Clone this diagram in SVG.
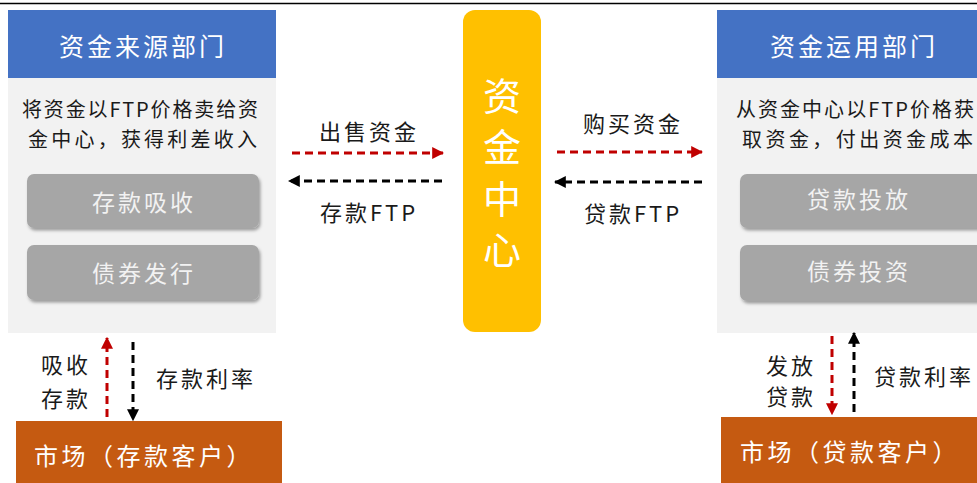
<svg xmlns="http://www.w3.org/2000/svg" width="977" height="483" viewBox="0 0 977 483">
<defs>
<style>
text{font-family:"Noto Sans CJK SC","Liberation Sans",sans-serif;dominant-baseline:central;text-anchor:middle}
.hdr{fill:#FFFFFF;font-size:25px;letter-spacing:3px}
.desc{fill:#1a1a1a;font-size:20px;text-anchor:start}
.btn{fill:#A6A6A6}
.btnt{fill:#F2F2F2;font-size:23px;letter-spacing:3px}
.mkt{fill:#FFFFFF;font-size:24px;letter-spacing:3.5px}
.lbl{fill:#1a1a1a;font-size:22px;letter-spacing:3px}
.ctr{fill:#FFFFFF;font-size:38px}
.red{stroke:#C00000;stroke-width:3;stroke-dasharray:8 5;fill:none}
.blk{stroke:#000000;stroke-width:3;stroke-dasharray:8 5;fill:none}
</style>
<filter id="sh" x="-10%" y="-20%" width="130%" height="150%">
<feDropShadow dx="1.5" dy="2.5" stdDeviation="1.5" flood-color="#000" flood-opacity="0.35"/>
</filter>
<marker id="ar" viewBox="0 0 10 10" refX="9" refY="5" markerWidth="4" markerHeight="4" orient="auto" markerUnits="strokeWidth">
<path d="M0,0 L10,5 L0,10 Z" fill="#C00000"/>
</marker>
<marker id="ab" viewBox="0 0 10 10" refX="9" refY="5" markerWidth="4" markerHeight="4" orient="auto" markerUnits="strokeWidth">
<path d="M0,0 L10,5 L0,10 Z" fill="#000000"/>
</marker>
</defs>
<rect width="977" height="483" fill="#FFFFFF"/>
<line x1="0" y1="3.5" x2="977" y2="3.5" stroke="#000" stroke-width="1.5"/>

<g id="source-dept">
<rect x="8" y="10" width="268" height="323" fill="#F2F2F2"/>
<rect x="8" y="10" width="268" height="68" fill="#4472C4"/>
<text class="hdr" x="143" y="45">资金来源部门</text>
<text class="desc" x="22" y="108" textLength="236" lengthAdjust="spacing">将资金以FTP价格卖给资</text>
<text class="desc" x="28" y="138" textLength="229" lengthAdjust="spacing">金中心，获得利差收入</text>
</g>
<g id="deposit-absorb">
<rect class="btn" x="27" y="174" width="232" height="54" rx="7" filter="url(#sh)"/>
<text class="btnt" x="144" y="201">存款吸收</text>
</g>
<g id="bond-issue">
<rect class="btn" x="27" y="245" width="232" height="55" rx="7" filter="url(#sh)"/>
<text class="btnt" x="144" y="272">债券发行</text>
</g>
<g id="market-deposit">
<rect x="16" y="421" width="266" height="62" fill="#C55A11"/>
<text class="mkt" x="144" y="454">市场（存款客户）</text>
</g>

<g id="fund-center">
<rect x="463" y="10" width="78" height="322" rx="12" fill="#FFC000"/>
<text class="ctr" x="502" y="93">资</text>
<text class="ctr" x="502" y="144">金</text>
<text class="ctr" x="502" y="196">中</text>
<text class="ctr" x="502" y="247">心</text>
</g>

<g id="use-dept">
<rect x="717" y="10" width="260" height="323" fill="#F2F2F2"/>
<rect x="717" y="10" width="260" height="68" fill="#4472C4"/>
<text class="hdr" x="854" y="45">资金运用部门</text>
<text class="desc" x="736" y="108" textLength="238" lengthAdjust="spacing">从资金中心以FTP价格获</text>
<text class="desc" x="742" y="138" textLength="231" lengthAdjust="spacing">取资金，付出资金成本</text>
</g>
<g id="loan-issue">
<rect class="btn" x="740" y="174" width="250" height="54" rx="7" filter="url(#sh)"/>
<text class="btnt" x="859" y="198">贷款投放</text>
</g>
<g id="bond-invest">
<rect class="btn" x="740" y="245" width="250" height="56" rx="7" filter="url(#sh)"/>
<text class="btnt" x="859" y="270">债券投资</text>
</g>
<g id="market-loan">
<rect x="721" y="417" width="256" height="66" fill="#C55A11"/>
<text class="mkt" x="850" y="450">市场（贷款客户）</text>
</g>

<g id="connectors">
<line class="red" x1="292" y1="153" x2="443" y2="153" marker-end="url(#ar)"/>
<line class="blk" x1="442" y1="181" x2="289" y2="181" marker-end="url(#ab)"/>
<line class="red" x1="557" y1="152" x2="702" y2="152" marker-end="url(#ar)"/>
<line class="blk" x1="702" y1="182" x2="555" y2="182" marker-end="url(#ab)"/>
<line class="red" x1="107" y1="417" x2="107" y2="338" marker-end="url(#ar)"/>
<line class="blk" x1="133" y1="342" x2="133" y2="420" marker-end="url(#ab)"/>
<line class="red" x1="832" y1="336" x2="832" y2="414" marker-end="url(#ar)"/>
<line class="blk" x1="854" y1="412" x2="854" y2="333" marker-end="url(#ab)"/>
</g>

<g id="labels">
<text class="lbl" x="369" y="130">出售资金</text>
<text class="lbl" x="369" y="211">存款FTP</text>
<text class="lbl" x="633" y="122">购买资金</text>
<text class="lbl" x="633" y="212">贷款FTP</text>
<text class="lbl" x="66" y="363">吸收</text>
<text class="lbl" x="66" y="397">存款</text>
<text class="lbl" x="206" y="377">存款利率</text>
<text class="lbl" x="791" y="364">发放</text>
<text class="lbl" x="791" y="395">贷款</text>
<text class="lbl" x="924" y="375">贷款利率</text>
</g>
</svg>
